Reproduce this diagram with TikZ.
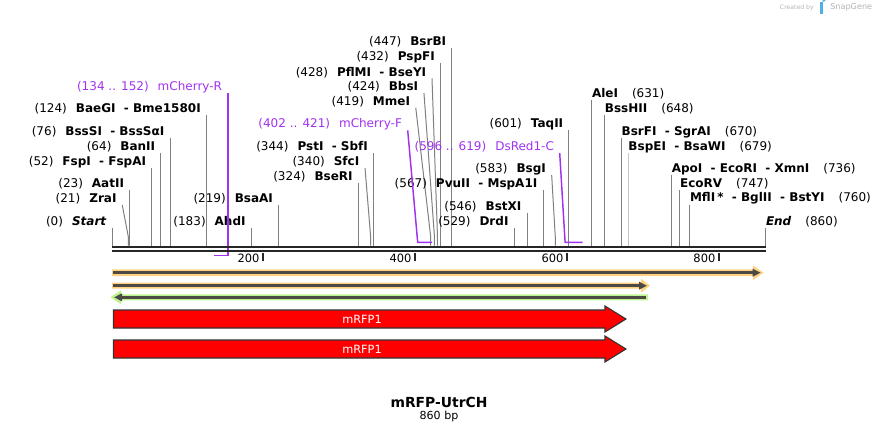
\documentclass[tikz,border=0pt]{standalone}
\usepackage{fontspec}
\setmainfont{DejaVu Sans}
\usetikzlibrary{arrows.meta}

\definecolor{cutgray}{HTML}{808080}
\definecolor{cutlight}{HTML}{C4C4C4}
\definecolor{bbdark}{HTML}{262626}
\definecolor{primerpurple}{HTML}{A032F0}
\definecolor{orangehalo}{HTML}{FDD17F}
\definecolor{greenhalo}{HTML}{BDF38F}
\definecolor{featdark}{HTML}{4D4A45}
\definecolor{cdsborder}{HTML}{333333}
\definecolor{wmgray}{HTML}{B4B4B4}
\definecolor{snapblue}{HTML}{4FB0E8}

\begin{document}
\begin{tikzpicture}[x=0.75pt, y=-0.75pt,
    site/.style={inner sep=0pt, font=\fontsize{9}{11}\selectfont},
    lefttag/.style={site, anchor=east},
    righttag/.style={site, anchor=west},
    primertag/.style={site, anchor=east, text=primerpurple},
    cut/.style={draw=cutgray, line width=0.75pt},
    primerline/.style={draw=primerpurple, line width=1.1pt},
    backbone/.style={draw=bbdark, line width=1.9pt},
    tickmark/.style={draw=bbdark, line width=1.2pt},
    ticklabel/.style={anchor=east, inner sep=0pt, font=\fontsize{8.6}{10}\selectfont},
    featline/.style={draw=featdark, line width=2.2pt, -{Triangle[length=6pt,width=5.5pt]}},
    cds/.style={fill=red, draw=cdsborder, line width=0.8pt},
    cdslabel/.style={inner sep=0pt, text=white, font=\fontsize{8.5}{10}\selectfont}]

  \useasboundingbox (0,0) rectangle (878,433);

  % enzymes left of their sites: name/bp/offset/label y/text
  \foreach \n/\s/\dx/\y/\t in {
      startpos/0/0/221.7/\textit{Start},
      zrai/21/-6/199/ZraI,
      aatii/23/0/183.7/AatII,
      fspi/52/0/162.3/FspI\ \ -\ FspAI,
      banii/64/0/146.7/BanII,
      bsssi/76/0/131.7/BssSI\ \ -\ BssSαI,
      baegi/124/0/109/BaeGI\ \ -\ Bme1580I,
      ahdi/183/0/221.7/AhdI,
      bsaai/219/0/199/BsaAI,
      bseri/324/0/176.7/BseRI,
      sfci/340/-5.6/162/SfcI,
      psti/344/0/147/PstI\ \ -\ SbfI,
      mmei/419/-14.9/101.7/MmeI,
      bbsi/424/-10.5/87/BbsI,
      pflmi/428/-5.5/72.3/PflMI\ \ -\ BseYI,
      pspfi/432/0/56.7/PspFI,
      bsrbi/447/0/42/BsrBI,
      drdi/529/0/222/DrdI,
      bstxi/546/0/206.7/BstXI,
      pvuii/567/0/184.3/PvuII\ \ -\ MspA1I,
      bsgi/583/-3.6/169/BsgI,
      taqii/601/0/124.3/TaqII} {
    \coordinate (\n-cut) at ({112.3+0.7598*\s},245.5);
    \node[lefttag] (\n) at ({112.3+0.7598*\s+\dx-5.5},\y) {(\s)\hspace{6.75pt}\textbf{\t}};
    \draw[cut] ([shift={(5.5,6)}]\n.east) -- ([shift={(0,-9)}]\n-cut) -- (\n-cut);
  }

  % enzymes right of their sites
  \foreach \n/\s/\y/\c/\t in {
      alei/631/94/cutgray/AleI,
      bsshii/648/109/cutgray/BssHII,
      bsrfi/670/132/cutgray/BsrFI\ \ -\ SgrAI,
      bspei/679/147/cutlight/BspEI\ \ -\ BsaWI,
      apoi/736/169/cutgray/ApoI\ \ -\ EcoRI\ \ -\ XmnI,
      ecorv/747/184/cutgray/EcoRV,
      mfli/760/198.7/cutgray/MflI\,*\ \ -\ BglII\ \ -\ BstYI,
      endpos/860/222/cutgray/\textit{End}} {
    \coordinate (\n-cut) at ({112.3+0.7598*\s},245.5);
    \node[righttag] (\n) at ({112.3+0.7598*\s},\y) {\textbf{\t}\hspace{10.5pt}(\s)};
    \draw[cut, draw=\c] ([shift={(0,6)}]\n.west) -- (\n-cut);
  }

  % primers
  \node[primertag] (mcherryr) at (222.3,87.3) {(134 .. 152)\hspace{6.75pt}mCherry-R};
  \coordinate (mcherryr-a) at (227.8,255.7);
  \coordinate (mcherryr-b) at (214.1,255.7);
  \draw[primerline] ([shift={(5.5,6)}]mcherryr.east) -- (mcherryr-a) -- (mcherryr-b);

  \node[primertag] (mcherryf) at (402.2,124.3) {(402 .. 421)\hspace{6.75pt}mCherry-F};
  \coordinate (mcherryf-a) at (417.7,242.3);
  \coordinate (mcherryf-b) at (432.2,242.3);
  \draw[primerline] ([shift={(5.5,6)}]mcherryf.east) -- (mcherryf-a) -- (mcherryf-b);

  \node[primertag] (dsred) at (554.2,147) {(596 .. 619)\hspace{6.75pt}DsRed1-C};
  \coordinate (dsred-a) at (565.1,242.3);
  \coordinate (dsred-b) at (582.6,242.3);
  \draw[primerline] ([shift={(5.5,6)}]dsred.east) -- (dsred-a) -- (dsred-b);

  % backbone and ruler
  \draw[backbone] (112,247.2) -- (766,247.2);
  \draw[backbone] (112,251) -- (766,251);
  \foreach \k in {200,400,600,800} {
    \coordinate (tick\k) at ({111.3+0.7598*\k},253);
    \draw[tickmark] (tick\k) -- ++(0,8);
    \node[ticklabel] (ticklab\k) at ([shift={(-3.5,5.5)}]tick\k) {\k};
  }

  % features
  \fill[orangehalo] (112,269.3) -- (753,269.3) -- (753,265.5) -- (763.5,272.7)
    -- (753,280) -- (753,276) -- (112,276) -- cycle;
  \draw[featline] (113,272.7) -- (760.7,272.7);
  \fill[orangehalo] (112,282.7) -- (641,282.7) -- (641,278.7) -- (650,285.7)
    -- (641,292.7) -- (641,288.7) -- (112,288.7) -- cycle;
  \draw[featline] (113,285.7) -- (647,285.7);
  \fill[greenhalo] (648,294.3) -- (121,294.3) -- (121,290.3) -- (110.5,297.3)
    -- (121,304.3) -- (121,300.3) -- (648,300.3) -- cycle;
  \draw[featline] (645.5,297.3) -- (114,297.3);

  \draw[cds] (113.5,310) -- (605,310) -- (605,306) -- (626,319) -- (605,332)
    -- (605,328) -- (113.5,328) -- cycle;
  \node[cdslabel] (mrfpa) at (362,319) {mRFP1};
  \draw[cds] (113.5,340) -- (605,340) -- (605,336) -- (626,349) -- (605,362)
    -- (605,358) -- (113.5,358) -- cycle;
  \node[cdslabel] (mrfpb) at (362,349) {mRFP1};

  % title
  \node[font=\bfseries\fontsize{10.4}{12}\selectfont] (mapname) at (439,402) {mRFP-UtrCH};
  \node[font=\fontsize{8.3}{10}\selectfont] (maplen) at (439,416) {860 bp};

  % watermark
  \node[anchor=east, inner sep=0pt, text=wmgray, font=\fontsize{4.6}{6}\selectfont] (createdby) at (814,7.5) {Created by};
  \fill[snapblue] (819.5,2) rectangle (822.5,13.5);
  \fill[snapblue] (822.5,2) arc[start angle=90, end angle=-90, radius=3.8] -- cycle;
  \node[anchor=west, inner sep=0pt, text=wmgray, font=\fontsize{6.1}{7}\selectfont] (snapgene) at (830,7.5) {SnapGene};
\end{tikzpicture}
\end{document}
